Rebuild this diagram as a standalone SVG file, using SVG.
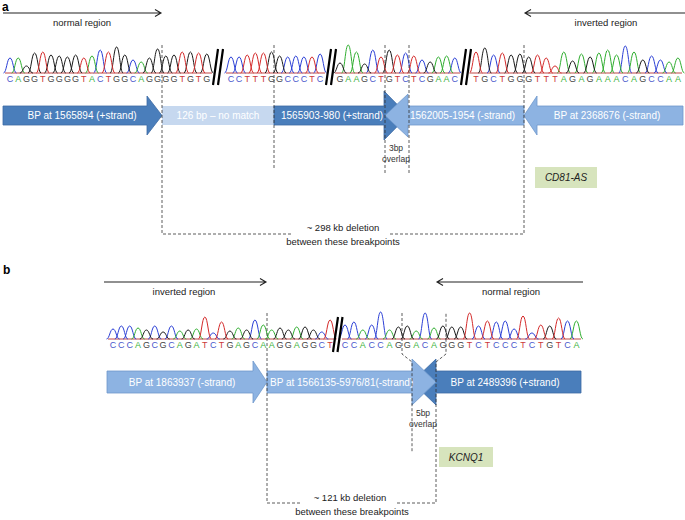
<svg xmlns="http://www.w3.org/2000/svg" width="685" height="520" viewBox="0 0 685 520">
<style>
text{font-family:"Liberation Sans",Arial,sans-serif;}
.lbl{font-size:12px;font-weight:bold;fill:#000;}
.reg{font-size:9.5px;fill:#222;text-anchor:middle;}
.seq{font-size:9px;text-anchor:middle;}
.c{fill:#4a58cc;}.a{fill:#3cb33c;}.g{fill:#444;}.t{fill:#cc3a3a;}
.pc{fill:none;stroke:#2b3fd6;stroke-width:1;}
.pa{fill:none;stroke:#2fae2f;stroke-width:1;}
.pg{fill:none;stroke:#1a1a1a;stroke-width:1;}
.pt{fill:none;stroke:#d42a2a;stroke-width:1;}
.base{stroke:#c04848;stroke-width:1;}
.slash{stroke:#000;stroke-width:2.2;}
.dark{fill:#4a7ebb;stroke:#3c6aa3;stroke-width:0.8;}
.light{fill:#8db3e2;stroke:#6f98cc;stroke-width:0.8;}
.pale{fill:#c6d8ef;}
.at{font-size:10px;fill:#fff;}
.mid{text-anchor:middle;}
.small{font-size:8.5px;fill:#333;text-anchor:middle;}
.gene{fill:#d7e4bd;}
.gt{font-size:10px;font-style:italic;fill:#222;text-anchor:middle;}
.dash{fill:none;stroke:#333;stroke-width:0.8;stroke-dasharray:3,2;}
.note{font-size:9.5px;fill:#222;text-anchor:middle;}
.rarr{fill:none;stroke:#222;stroke-width:1.1;}
</style>

<!-- panel labels -->
<text class="lbl" x="2" y="11">a</text>
<text class="lbl" x="3" y="274">b</text>

<!-- region arrows -->
<g id="region-arrows">
<path class="rarr" d="M3,13 H161 M155,9.5 L161,13 L155,16.5"/>
<text class="reg" x="82" y="26">normal region</text>
<path class="rarr" d="M525,13 H685 M531,9.5 L525,13 L531,16.5"/>
<text class="reg" x="606" y="26">inverted region</text>
<path class="rarr" d="M104,282 H266 M260,278.5 L266,282 L260,285.5"/>
<text class="reg" x="184" y="295">inverted region</text>
<path class="rarr" d="M437,282 H583 M443,278.5 L437,282 L443,285.5"/>
<text class="reg" x="511" y="295">normal region</text>
</g>

<!-- chromatogram a -->
<g id="chromatogram-a">
<path class="base" d="M5,73 H212 M226,73 H325 M335,73 H460 M470,73 H682"/>
<g transform="translate(-1,0)">
<path class="pc" d="M4.5,73c3,0 3.5,-15 6.5,-15s3.5,15 6.5,15M94.7,73c3,0 3.5,-23 6.5,-23s3.5,23 6.5,23M127.5,73c3,0 3.5,-13 6.5,-13s3.5,13 6.5,13M225.5,73c3,0 3.5,-16 6.5,-16s3.5,16 6.5,16M233.6,73c3,0 3.5,-16 6.5,-16s3.5,16 6.5,16M282.2,73c3,0 3.5,-16 6.5,-16s3.5,16 6.5,16M290.3,73c3,0 3.5,-17 6.5,-17s3.5,17 6.5,17M298.4,73c3,0 3.5,-16 6.5,-16s3.5,16 6.5,16M314.6,73c3,0 3.5,-19 6.5,-19s3.5,19 6.5,19M367.3,73c3,0 3.5,-23 6.5,-23s3.5,23 6.5,23M400.1,73c3,0 3.5,-20 6.5,-20s3.5,20 6.5,20M416.5,73c3,0 3.5,-13 6.5,-13s3.5,13 6.5,13M449.3,73c3,0 3.5,-15 6.5,-15s3.5,15 6.5,15M488.1,73c3,0 3.5,-18 6.5,-18s3.5,18 6.5,18M619.8,73c3,0 3.5,-27 6.5,-27s3.5,27 6.5,27M646.1,73c3,0 3.5,-17 6.5,-17s3.5,17 6.5,17M654.9,73c3,0 3.5,-13 6.5,-13s3.5,13 6.5,13"/>
<path class="pa" d="M12.7,73c3,0 3.5,-15 6.5,-15s3.5,15 6.5,15M86.5,73c3,0 3.5,-17 6.5,-17s3.5,17 6.5,17M135.7,73c3,0 3.5,-11 6.5,-11s3.5,11 6.5,11M342.7,73c3,0 3.5,-28 6.5,-28s3.5,28 6.5,28M350.9,73c3,0 3.5,-21 6.5,-21s3.5,21 6.5,21M432.9,73c3,0 3.5,-16 6.5,-16s3.5,16 6.5,16M441.1,73c3,0 3.5,-17 6.5,-17s3.5,17 6.5,17M558.3,73c3,0 3.5,-21 6.5,-21s3.5,21 6.5,21M575.9,73c3,0 3.5,-19 6.5,-19s3.5,19 6.5,19M593.4,73c3,0 3.5,-20 6.5,-20s3.5,20 6.5,20M602.2,73c3,0 3.5,-23 6.5,-23s3.5,23 6.5,23M611,73c3,0 3.5,-18 6.5,-18s3.5,18 6.5,18M628.5,73c3,0 3.5,-21 6.5,-21s3.5,21 6.5,21M663.6,73c3,0 3.5,-11 6.5,-11s3.5,11 6.5,11M672.4,73c3,0 3.5,-15 6.5,-15s3.5,15 6.5,15"/>
<path class="pg" d="M20.9,73c3,0 3.5,-7 6.5,-7s3.5,7 6.5,7M29.1,73c3,0 3.5,-20 6.5,-20s3.5,20 6.5,20M45.5,73c3,0 3.5,-18 6.5,-18s3.5,18 6.5,18M53.7,73c3,0 3.5,-17 6.5,-17s3.5,17 6.5,17M61.9,73c3,0 3.5,-16 6.5,-16s3.5,16 6.5,16M70.1,73c3,0 3.5,-18 6.5,-18s3.5,18 6.5,18M111.1,73c3,0 3.5,-26 6.5,-26s3.5,26 6.5,26M119.3,73c3,0 3.5,-18 6.5,-18s3.5,18 6.5,18M143.9,73c3,0 3.5,-15 6.5,-15s3.5,15 6.5,15M152.1,73c3,0 3.5,-24 6.5,-24s3.5,24 6.5,24M160.3,73c3,0 3.5,-17 6.5,-17s3.5,17 6.5,17M168.5,73c3,0 3.5,-18 6.5,-18s3.5,18 6.5,18M184.9,73c3,0 3.5,-21 6.5,-21s3.5,21 6.5,21M201.3,73c3,0 3.5,-19 6.5,-19s3.5,19 6.5,19M266,73c3,0 3.5,-21 6.5,-21s3.5,21 6.5,21M274.1,73c3,0 3.5,-17 6.5,-17s3.5,17 6.5,17M334.5,73c3,0 3.5,-10 6.5,-10s3.5,10 6.5,10M359.1,73c3,0 3.5,-9 6.5,-9s3.5,9 6.5,9M383.7,73c3,0 3.5,-23 6.5,-23s3.5,23 6.5,23M424.7,73c3,0 3.5,-11 6.5,-11s3.5,11 6.5,11M479.3,73c3,0 3.5,-25 6.5,-25s3.5,25 6.5,25M505.6,73c3,0 3.5,-18 6.5,-18s3.5,18 6.5,18M514.4,73c3,0 3.5,-19 6.5,-19s3.5,19 6.5,19M523.2,73c3,0 3.5,-16 6.5,-16s3.5,16 6.5,16M567.1,73c3,0 3.5,-12 6.5,-12s3.5,12 6.5,12M584.6,73c3,0 3.5,-16 6.5,-16s3.5,16 6.5,16M637.3,73c3,0 3.5,-13 6.5,-13s3.5,13 6.5,13"/>
<path class="pt" d="M37.3,73c3,0 3.5,-21 6.5,-21s3.5,21 6.5,21M78.3,73c3,0 3.5,-15 6.5,-15s3.5,15 6.5,15M102.9,73c3,0 3.5,-21 6.5,-21s3.5,21 6.5,21M176.7,73c3,0 3.5,-21 6.5,-21s3.5,21 6.5,21M193.1,73c3,0 3.5,-20 6.5,-20s3.5,20 6.5,20M241.7,73c3,0 3.5,-18 6.5,-18s3.5,18 6.5,18M249.8,73c3,0 3.5,-20 6.5,-20s3.5,20 6.5,20M257.9,73c3,0 3.5,-20 6.5,-20s3.5,20 6.5,20M306.5,73c3,0 3.5,-16 6.5,-16s3.5,16 6.5,16M375.5,73c3,0 3.5,-16 6.5,-16s3.5,16 6.5,16M391.9,73c3,0 3.5,-18 6.5,-18s3.5,18 6.5,18M408.3,73c3,0 3.5,-17 6.5,-17s3.5,17 6.5,17M470.5,73c3,0 3.5,-21 6.5,-21s3.5,21 6.5,21M496.8,73c3,0 3.5,-20 6.5,-20s3.5,20 6.5,20M532,73c3,0 3.5,-18 6.5,-18s3.5,18 6.5,18M540.7,73c3,0 3.5,-15 6.5,-15s3.5,15 6.5,15M549.5,73c3,0 3.5,-7 6.5,-7s3.5,7 6.5,7"/>
</g>
<path class="slash" d="M213,85 L218,49 M218,85 L223,49 M326,85 L331,49 M331,85 L336,49 M461,85 L466,49 M466,85 L471,49"/>
<text class="seq" y="82" x="10 18.2 26.4 34.6 42.8 51 59.2 67.4 75.6 83.8 92 100.2 108.4 116.6 124.8 133 141.2 149.4 157.6 165.8 174 182.2 190.4 198.6 206.8"><tspan class="c">C</tspan><tspan class="a">A</tspan><tspan class="g">GG</tspan><tspan class="t">T</tspan><tspan class="g">GGGG</tspan><tspan class="t">T</tspan><tspan class="a">A</tspan><tspan class="c">C</tspan><tspan class="t">T</tspan><tspan class="g">GG</tspan><tspan class="c">C</tspan><tspan class="a">A</tspan><tspan class="g">GGGG</tspan><tspan class="t">T</tspan><tspan class="g">G</tspan><tspan class="t">T</tspan><tspan class="g">G</tspan></text>
<text class="seq" y="82" x="231 239.1 247.2 255.3 263.4 271.5 279.6 287.7 295.8 303.9 312 320.1"><tspan class="c">CC</tspan><tspan class="t">TTT</tspan><tspan class="g">GG</tspan><tspan class="c">CCC</tspan><tspan class="t">T</tspan><tspan class="c">C</tspan></text>
<text class="seq" y="82" x="340 348.2 356.4 364.6 372.8 381 389.2 397.4 405.6 413.8 422 430.2 438.4 446.6 454.8"><tspan class="g">G</tspan><tspan class="a">AA</tspan><tspan class="g">G</tspan><tspan class="c">C</tspan><tspan class="t">T</tspan><tspan class="g">G</tspan><tspan class="t">T</tspan><tspan class="c">C</tspan><tspan class="t">T</tspan><tspan class="c">C</tspan><tspan class="g">G</tspan><tspan class="a">AA</tspan><tspan class="c">C</tspan></text>
<text class="seq" y="82" x="476 484.8 493.6 502.3 511.1 519.9 528.7 537.5 546.2 555 563.8 572.6 581.4 590.1 598.9 607.7 616.5 625.3 634 642.8 651.6 660.4 669.1 677.9"><tspan class="t">T</tspan><tspan class="g">G</tspan><tspan class="c">C</tspan><tspan class="t">T</tspan><tspan class="g">GGG</tspan><tspan class="t">TTT</tspan><tspan class="a">A</tspan><tspan class="g">G</tspan><tspan class="a">A</tspan><tspan class="g">G</tspan><tspan class="a">AAA</tspan><tspan class="c">C</tspan><tspan class="a">A</tspan><tspan class="g">G</tspan><tspan class="c">CC</tspan><tspan class="a">AA</tspan></text>
</g>

<!-- chromatogram b -->
<g id="chromatogram-b">
<path class="base" d="M108,339 H335 M342,339 H581"/>
<g transform="translate(-1,0)">
<path class="pc" d="M107.5,339c3,0 3.5,-10 6.5,-10s3.5,10 6.5,10M115.85,339c3,0 3.5,-13 6.5,-13s3.5,13 6.5,13M124.2,339c3,0 3.5,-13 6.5,-13s3.5,13 6.5,13M149.25,339c3,0 3.5,-13 6.5,-13s3.5,13 6.5,13M165.95,339c3,0 3.5,-13 6.5,-13s3.5,13 6.5,13M207.7,339c3,0 3.5,-6 6.5,-6s3.5,6 6.5,6M249.45,339c3,0 3.5,-19 6.5,-19s3.5,19 6.5,19M316.25,339c3,0 3.5,-7 6.5,-7s3.5,7 6.5,7M339.5,339c3,0 3.5,-14 6.5,-14s3.5,14 6.5,14M348.4,339c3,0 3.5,-17 6.5,-17s3.5,17 6.5,17M366.2,339c3,0 3.5,-14 6.5,-14s3.5,14 6.5,14M375.1,339c3,0 3.5,-27 6.5,-27s3.5,27 6.5,27M419.6,339c3,0 3.5,-26 6.5,-26s3.5,26 6.5,26M473,339c3,0 3.5,-13 6.5,-13s3.5,13 6.5,13M490.8,339c3,0 3.5,-17 6.5,-17s3.5,17 6.5,17M499.7,339c3,0 3.5,-18 6.5,-18s3.5,18 6.5,18M508.6,339c3,0 3.5,-10 6.5,-10s3.5,10 6.5,10M526.4,339c3,0 3.5,-6 6.5,-6s3.5,6 6.5,6M562,339c3,0 3.5,-18 6.5,-18s3.5,18 6.5,18"/>
<path class="pa" d="M132.55,339c3,0 3.5,-11 6.5,-11s3.5,11 6.5,11M174.3,339c3,0 3.5,-8 6.5,-8s3.5,8 6.5,8M191,339c3,0 3.5,-10 6.5,-10s3.5,10 6.5,10M232.75,339c3,0 3.5,-11 6.5,-11s3.5,11 6.5,11M257.8,339c3,0 3.5,-14 6.5,-14s3.5,14 6.5,14M266.15,339c3,0 3.5,-9 6.5,-9s3.5,9 6.5,9M291.2,339c3,0 3.5,-12 6.5,-12s3.5,12 6.5,12M357.3,339c3,0 3.5,-9 6.5,-9s3.5,9 6.5,9M384,339c3,0 3.5,-9 6.5,-9s3.5,9 6.5,9M410.7,339c3,0 3.5,-8 6.5,-8s3.5,8 6.5,8M428.5,339c3,0 3.5,-11 6.5,-11s3.5,11 6.5,11M570.9,339c3,0 3.5,-18 6.5,-18s3.5,18 6.5,18"/>
<path class="pg" d="M140.9,339c3,0 3.5,-9 6.5,-9s3.5,9 6.5,9M157.6,339c3,0 3.5,-7 6.5,-7s3.5,7 6.5,7M182.65,339c3,0 3.5,-9 6.5,-9s3.5,9 6.5,9M224.4,339c3,0 3.5,-8 6.5,-8s3.5,8 6.5,8M241.1,339c3,0 3.5,-9 6.5,-9s3.5,9 6.5,9M274.5,339c3,0 3.5,-11 6.5,-11s3.5,11 6.5,11M282.85,339c3,0 3.5,-9 6.5,-9s3.5,9 6.5,9M299.55,339c3,0 3.5,-12 6.5,-12s3.5,12 6.5,12M307.9,339c3,0 3.5,-9 6.5,-9s3.5,9 6.5,9M392.9,339c3,0 3.5,-12 6.5,-12s3.5,12 6.5,12M401.8,339c3,0 3.5,-13 6.5,-13s3.5,13 6.5,13M437.4,339c3,0 3.5,-13 6.5,-13s3.5,13 6.5,13M446.3,339c3,0 3.5,-12 6.5,-12s3.5,12 6.5,12M455.2,339c3,0 3.5,-12 6.5,-12s3.5,12 6.5,12M544.2,339c3,0 3.5,-13 6.5,-13s3.5,13 6.5,13"/>
<path class="pt" d="M199.35,339c3,0 3.5,-22 6.5,-22s3.5,22 6.5,22M216.05,339c3,0 3.5,-17 6.5,-17s3.5,17 6.5,17M324.6,339c3,0 3.5,-19 6.5,-19s3.5,19 6.5,19M464.1,339c3,0 3.5,-26 6.5,-26s3.5,26 6.5,26M481.9,339c3,0 3.5,-18 6.5,-18s3.5,18 6.5,18M517.5,339c3,0 3.5,-23 6.5,-23s3.5,23 6.5,23M535.3,339c3,0 3.5,-14 6.5,-14s3.5,14 6.5,14M553.1,339c3,0 3.5,-21 6.5,-21s3.5,21 6.5,21"/>
</g>
<path class="slash" d="M333,352 L338,317 M337.5,352 L342.5,317"/>
<text class="seq" y="348" x="113 121.35 129.7 138.05 146.4 154.75 163.1 171.45 179.8 188.15 196.5 204.85 213.2 221.55 229.9 238.25 246.6 254.95 263.3 271.65 280 288.35 296.7 305.05 313.4 321.75 330.1"><tspan class="c">CCC</tspan><tspan class="a">A</tspan><tspan class="g">G</tspan><tspan class="c">C</tspan><tspan class="g">G</tspan><tspan class="c">C</tspan><tspan class="a">A</tspan><tspan class="g">G</tspan><tspan class="a">A</tspan><tspan class="t">T</tspan><tspan class="c">C</tspan><tspan class="t">T</tspan><tspan class="g">G</tspan><tspan class="a">A</tspan><tspan class="g">G</tspan><tspan class="c">C</tspan><tspan class="a">AA</tspan><tspan class="g">GG</tspan><tspan class="a">A</tspan><tspan class="g">GG</tspan><tspan class="c">C</tspan><tspan class="t">T</tspan></text>
<text class="seq" y="348" x="345 353.9 362.8 371.7 380.6 389.5 398.4 407.3 416.2 425.1 434 442.9 451.8 460.7 469.6 478.5 487.4 496.3 505.2 514.1 523 531.9 540.8 549.7 558.6 567.5 576.4"><tspan class="c">CC</tspan><tspan class="a">A</tspan><tspan class="c">CC</tspan><tspan class="a">A</tspan><tspan class="g">GG</tspan><tspan class="a">A</tspan><tspan class="c">C</tspan><tspan class="a">A</tspan><tspan class="g">GGG</tspan><tspan class="t">T</tspan><tspan class="c">C</tspan><tspan class="t">T</tspan><tspan class="c">CCC</tspan><tspan class="t">T</tspan><tspan class="c">C</tspan><tspan class="t">T</tspan><tspan class="g">G</tspan><tspan class="t">T</tspan><tspan class="c">C</tspan><tspan class="a">A</tspan></text>
</g>

<!-- panel a nodes -->
<g id="a-bp-1565894">
<polygon class="dark" points="3,106 147,106 147,96 162,115.5 147,135 147,125 3,125"/>
<text class="at mid" x="82" y="119">BP at 1565894 (+strand)</text>
</g>
<g id="a-no-match">
<rect class="pale" x="162" y="106" width="112" height="19"/>
<text class="at mid" x="218" y="119">126 bp – no match</text>
</g>
<g id="a-1565903">
<polygon class="dark" points="274,106 384,106 384,91 408,115.5 384,140 384,125 274,125"/>
<text class="at" x="281" y="119">1565903-980 (+strand)</text>
</g>
<g id="a-1562005">
<polygon class="light" points="524,106 408,106 408,94 385,115.5 408,137 408,125 524,125"/>
<text class="at" x="410" y="119">1562005-1954 (-strand)</text>
</g>
<g id="a-bp-2368676">
<polygon class="light" points="683,106 537,106 537,96 524,115.5 537,135 537,125 683,125"/>
<text class="at mid" x="607" y="119">BP at 2368676 (-strand)</text>
</g>
<g id="a-overlap">
<text class="small" x="396" y="151">3bp</text>
<text class="small" x="396" y="162">overlap</text>
</g>
<g id="a-cd81as">
<rect class="gene" x="535" y="167" width="62" height="21"/>
<text class="gt" x="566" y="181">CD81-AS</text>
</g>

<!-- panel b nodes -->
<g id="b-bp-1863937">
<polygon class="light" points="107,371 253,371 253,361 267,382 253,403 253,393 107,393"/>
<text class="at mid" x="182" y="386">BP at 1863937 (-strand)</text>
</g>
<g id="b-bp-2489396">
<polygon class="dark" points="581,371 436,371 436,359 412,382 436,405 436,393 581,393"/>
<text class="at mid" x="505" y="386">BP at 2489396 (+strand)</text>
</g>
<g id="b-bp-1566135">
<polygon class="light" points="267,371 412,371 412,359 436,382 412,405 412,393 267,393"/>
<text class="at" x="270" y="386">BP at 1566135-5976/81(-strand)</text>
</g>
<g id="b-overlap">
<text class="small" x="423" y="416">5bp</text>
<text class="small" x="423" y="427">overlap</text>
</g>
<g id="b-kcnq1">
<rect class="gene" x="439" y="447" width="54" height="20"/>
<text class="gt" x="466" y="461">KCNQ1</text>
</g>

<!-- connectors: breakpoint dashed lines and deletion brackets -->
<g id="connectors">
<path class="dash" d="M162,45 V234 H293 M390,234 H524 V45"/>
<path class="dash" d="M274,45 V170"/>
<path class="dash" d="M385,45 V175"/>
<path class="dash" d="M409,45 V175"/>
<path class="dash" d="M267,313 V503 H302 M397,503 H436 V362 L446,354 V313"/>
<path class="dash" d="M402,313 V354 L412,362 V452"/>
</g>
<g id="deletion-labels">
<text class="note" x="343" y="231">~ 298 kb deletion</text>
<text class="note" x="343" y="245">between these breakpoints</text>
<text class="note" x="350" y="501">~ 121 kb deletion</text>
<text class="note" x="352" y="515">between these breakpoints</text>
</g>
</svg>
